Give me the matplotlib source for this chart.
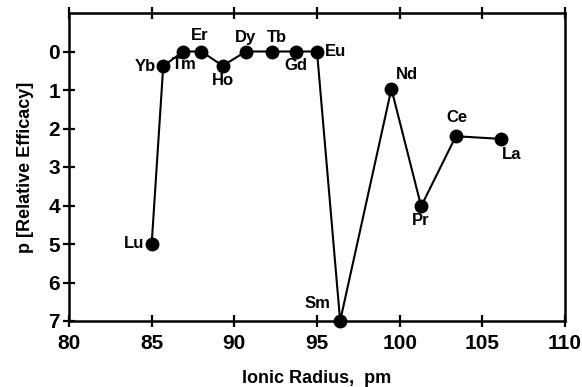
import matplotlib.pyplot as plt

# ionic radius (pm) and relative efficacy p for each lanthanide
elements = ["Lu", "Yb", "Tm", "Er", "Ho", "Dy", "Tb", "Gd", "Eu", "Sm", "Nd", "Pr", "Ce", "La"]
radius = [85.0, 85.7, 86.9, 88.0, 89.3, 90.7, 92.3, 93.7, 95.0, 96.4, 99.5, 101.3, 103.4, 106.1]
efficacy = [5.0, 0.38, 0.0, 0.0, 0.37, 0.0, 0.0, 0.0, 0.0, 7.0, 0.97, 4.02, 2.2, 2.27]

# label offsets in points, (dx, dy, ha, va)
offsets = {
    "Lu": (-5, 0, "right", "center"),
    "Yb": (-5, 0, "right", "center"),
    "Tm": (1, -4, "center", "top"),
    "Er": (-1, 6, "center", "bottom"),
    "Ho": (0, -5, "center", "top"),
    "Dy": (0, 5, "center", "bottom"),
    "Tb": (3, 5, "center", "bottom"),
    "Gd": (0, -5, "center", "top"),
    "Eu": (6, 0, "left", "center"),
    "Sm": (-7, 7, "right", "bottom"),
    "Nd": (3, 5, "left", "bottom"),
    "Pr": (0, -5, "center", "top"),
    "Ce": (1, 8, "center", "bottom"),
    "La": (8, -6, "center", "top"),
}

plt.rcParams["font.family"] = ["Liberation Sans", "DejaVu Sans"]
plt.rcParams["font.weight"] = "bold"

fig = plt.figure(figsize=(5.82, 3.87), dpi=100)
ax = fig.add_axes([69 / 582, 1 - 321 / 387, 496 / 582, 308 / 387])

ax.plot(radius, efficacy, color="black", lw=1.5, marker="o", ms=9, zorder=3, clip_on=False)

for name, x, y in zip(elements, radius, efficacy):
    dx, dy, ha, va = offsets[name]
    ax.annotate(name, (x, y), xytext=(dx, dy), textcoords="offset points",
                ha=ha, va=va, fontsize=12, fontweight="bold")

ax.set_xlim(80, 110)
ax.set_ylim(7, -1)
ax.set_xticks(range(80, 111, 5))
ax.set_yticks(range(0, 8))

for s in ax.spines.values():
    s.set_linewidth(1.8)
ax.tick_params(axis="both", direction="inout", length=9, width=1.6, labelsize=15, pad=2)
ax.tick_params(axis="x", top=True, pad=5)
for lbl in ax.get_xticklabels() + ax.get_yticklabels():
    lbl.set_fontweight("bold")

ax.set_xlabel("Ionic Radius,  pm", fontsize=13, fontweight="bold", labelpad=12)
ax.set_ylabel("p [Relative Efficacy]", fontsize=13, fontweight="bold", labelpad=10)

fig.savefig("out.png", dpi=100)
